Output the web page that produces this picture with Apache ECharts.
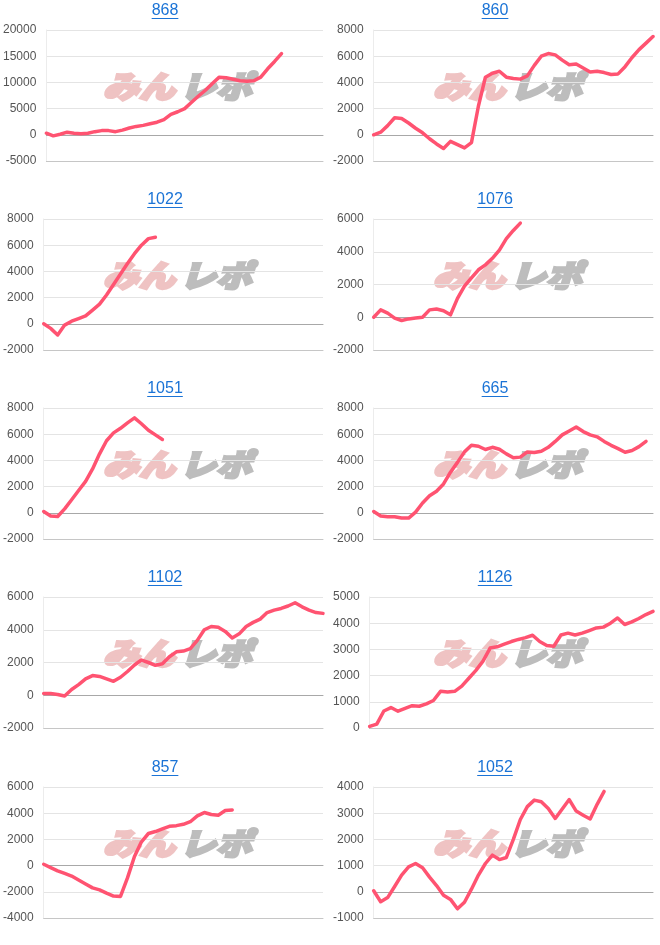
<!DOCTYPE html>
<html><head><meta charset="utf-8">
<script src="https://cdn.jsdelivr.net/npm/echarts@6/dist/echarts.min.js"></script>
<style>
html,body{margin:0;padding:0;background:#fff;}
#wrap{position:relative;width:660px;height:945px;overflow:hidden;}
.p{position:absolute;width:330px;height:189px;overflow:hidden;}
</style></head>
<body><div id="wrap"></div>
<script>
// ---- data ----
const titles = ['868','860','1022','1076','1051','665','1102','1126','857','1052'];
const s868  = [300,-200,100,500,300,200,300,600,800,800,600,900,1300,1600,1800,2100,2400,2900,3900,4400,5000,6200,7400,8500,9800,11000,10900,10600,10300,10200,10300,11000,12600,14000,15500];
const s860  = [0,200,700,1300,1250,900,500,150,-300,-700,-1050,-500,-750,-1000,-600,2200,4400,4700,4850,4400,4300,4250,4500,5300,6000,6200,6100,5700,5350,5400,5100,4800,4850,4750,4600,4650,5200,5900,6500,7000,7500];
const s1022 = [0,-350,-850,-100,200,400,600,1050,1500,2200,3000,3800,4600,5350,6000,6500,6600];
const s1076 = [0,450,250,-50,-200,-100,-50,0,450,500,400,150,1150,1900,2400,2900,3200,3600,4100,4800,5300,5750];
const s1051 = [100,-250,-280,300,1000,1700,2400,3350,4500,5500,6100,6450,6870,7250,6800,6300,5950,5600];
const s665  = [100,-250,-300,-300,-400,-400,50,750,1300,1650,2200,3100,3850,4650,5150,5080,4830,5000,4850,4500,4200,4250,4650,4600,4700,5000,5450,5950,6250,6550,6200,5950,5800,5450,5150,4900,4620,4750,5050,5450];
const s1102 = [100,100,50,-50,350,650,1000,1200,1150,1000,850,1100,1450,1850,2150,2000,1830,1920,2350,2650,2700,2850,3350,4000,4200,4150,3900,3500,3750,4200,4450,4650,5050,5200,5300,5450,5650,5400,5200,5050,5000];
const s1126 = [60,150,650,780,640,750,850,830,920,1050,1400,1370,1400,1600,1900,2200,2550,3050,3100,3200,3300,3380,3450,3540,3300,3150,3120,3550,3620,3550,3620,3720,3820,3850,4000,4200,3950,4050,4180,4330,4450];
const s857  = [100,-150,-400,-600,-800,-1100,-1400,-1700,-1850,-2100,-2330,-2350,-940,700,1820,2450,2600,2800,3000,3050,3150,3350,3800,4050,3900,3850,4200,4250];
const s1052 = [40,-380,-220,200,640,950,1080,920,560,240,-130,-290,-650,-400,100,640,1080,1400,1230,1310,2000,2760,3250,3500,3440,3180,2800,3160,3520,3080,2920,2780,3340,3830];
const seriesList = [s868,s860,s1022,s1076,s1051,s665,s1102,s1126,s857,s1052];
const yMin  = [-5000,-2000,-2000,-2000,-2000,-2000,-2000,0,-4000,-1000];
const yMax  = [20000,8000,8000,6000,8000,8000,6000,5000,6000,4000];
const yStep = [5000,2000,2000,2000,2000,2000,2000,1000,2000,1000];
const xSlots = 40;

// ---- style ----
const rowTops = [0,189,378,567,757];
const gridLeft = [43,41,41,41,41,41,41,37,41,41];
const BLUE = '#1a73d6';
const LINE = '#ff5371';
const FONT = '"Liberation Sans", Arial, sans-serif';
const WM_FONT = '"Noto Sans CJK JP", "Noto Sans CJK SC", sans-serif';
const cvs = document.createElement('canvas').getContext('2d');
cvs.font = '16px "Liberation Sans"';

const wrap = document.getElementById('wrap');
titles.forEach((t, k) => {
  const col = k % 2, row = Math.floor(k / 2);
  const d = document.createElement('div');
  d.className = 'p';
  d.style.left = (col * 330) + 'px';
  d.style.top = rowTops[row] + 'px';
  if (row === 4) d.style.height = '188px';
  wrap.appendChild(d);
  const chart = echarts.init(d, null, {renderer: 'canvas'});
  const tw = cvs.measureText(t).width;
  const data = seriesList[k].map((v, i) => [i, v]);
  const noX = {axisTick:{show:false}, axisLabel:{show:false}, splitLine:{show:false}};
  chart.setOption({
    animation: false,
    title: {text: t, left: 'center', top: 3, padding: 0,
      textStyle: {color: BLUE, fontSize: 16, fontWeight: 'normal', fontFamily: FONT}},
    grid: {left: gridLeft[k], right: 7, top: 30, height: 131},
    xAxis: [
      Object.assign({type:'value', min:0, max:xSlots, position:'bottom',
        axisLine:{show:true, onZero:true, lineStyle:{color:'#a8a8a8', width:1}}}, noX),
      Object.assign({type:'value', min:0, max:xSlots, position:'bottom',
        axisLine:{show:true, onZero:false, lineStyle:{color:'#c6c6c6', width:1}}}, noX)
    ],
    yAxis: {type:'value', min:yMin[k], max:yMax[k], interval:yStep[k],
      axisLine:{show:true, lineStyle:{color:'#ececec'}},
      axisTick:{show:false},
      axisLabel:{color:'#555', fontSize:12, margin:10, fontFamily:FONT,
        formatter: v => String(v)},
      splitLine:{lineStyle:{color:'#e4e4e4', width:1}}},
    graphic: [
      {type:'text', x:103, y:86, scaleY:0.85, z:-10, silent:true,
        style:{text:'みん', fill:'#efc3c3', stroke:'#efc3c3', lineWidth:3.2, fontStyle:'italic', fontWeight:900,
          fontSize:36, fontFamily:WM_FONT, verticalAlign:'middle'}},
      {type:'text', x:180, y:86, scaleY:0.85, z:-10, silent:true,
        style:{text:'レポ', fill:'#bdbdbd', stroke:'#bdbdbd', lineWidth:3.2, fontStyle:'italic', fontWeight:900,
          fontSize:36, fontFamily:WM_FONT, verticalAlign:'middle'}},
      {type:'rect', silent:true, shape:{x:165 - tw/2, y:18, width:tw, height:1}, style:{fill:BLUE}}
    ],
    series: [{type:'line', data: data, xAxisIndex:0, symbol:'none', z:5,
      lineStyle:{color:LINE, width:3.5, cap:'round', join:'round'}}]
  });
});
</script></body></html>
